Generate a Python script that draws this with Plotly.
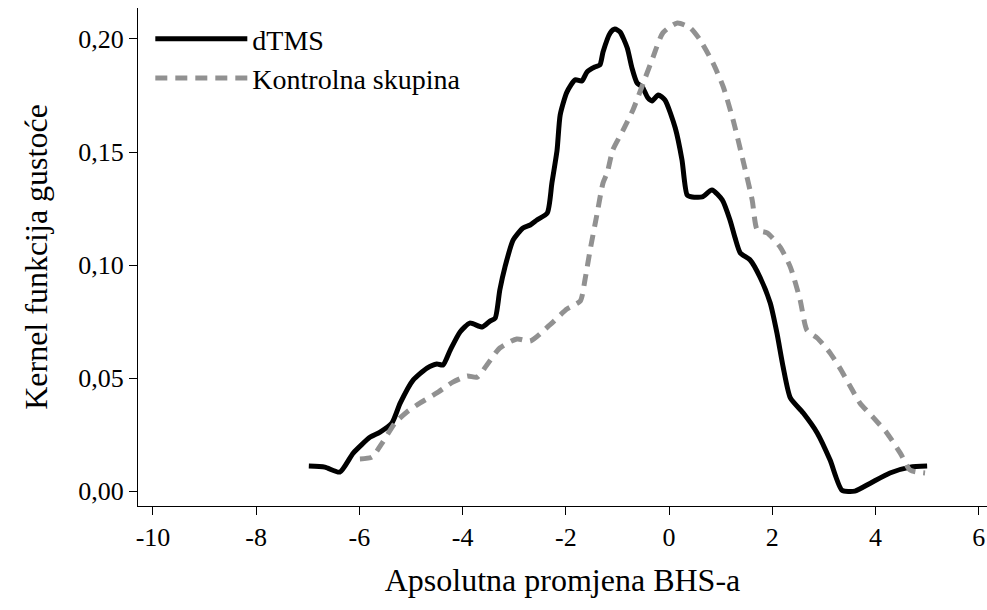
import plotly.graph_objects as go

# dTMS kernel density
dtms_x = [-6.98, -6.67, -6.38, -6.12, -5.79, -5.60, -5.37, -5.21, -4.96, -4.69, -4.50, -4.38,
          -4.24, -4.05, -3.86, -3.62, -3.47, -3.37, -3.28, -3.18, -3.02, -2.83, -2.69, -2.56,
          -2.36, -2.27, -2.17, -2.11, -1.98, -1.82, -1.69, -1.59, -1.44, -1.34, -1.28, -1.14,
          -1.05, -0.95, -0.81, -0.72, -0.62, -0.52, -0.41, -0.33, -0.21, -0.08, 0.12, 0.25,
          0.35, 0.45, 0.64, 0.83, 1.03, 1.18, 1.28, 1.38, 1.57, 1.76, 1.96, 2.09, 2.21, 2.35,
          2.60, 2.87, 3.12, 3.35, 3.60, 3.90, 4.28, 4.67, 5.00]
dtms_y = [0.0111, 0.0106, 0.0084, 0.0168, 0.0239, 0.0261, 0.0301, 0.0389, 0.0491, 0.0544, 0.0562, 0.0558,
          0.0624, 0.0704, 0.0743, 0.0726, 0.0752, 0.0765, 0.0889, 0.0991, 0.1111, 0.1164, 0.1177, 0.1199,
          0.1230, 0.1363, 0.1509, 0.1664, 0.1765, 0.1819, 0.1814, 0.1854, 0.1876, 0.1885, 0.1942, 0.2027,
          0.2044, 0.2031, 0.1960, 0.1872, 0.1805, 0.1788, 0.1739, 0.1726, 0.1752, 0.1730, 0.1606, 0.1465,
          0.1310, 0.1301, 0.1301, 0.1332, 0.1288, 0.1199, 0.1119, 0.1053, 0.1022, 0.0947, 0.0832, 0.0699, 0.0549, 0.0412,
          0.0345, 0.0257, 0.0137, 0.0004, 0.0000, 0.0035, 0.0080, 0.0106, 0.0111]

# Kontrolna skupina kernel density
ctrl_x = [-5.99, -5.76, -5.56, -5.31, -5.08, -4.83, -4.50, -4.19, -3.91, -3.72, -3.53, -3.28,
          -2.95, -2.69, -2.31, -1.98, -1.72, -1.63, -1.53, -1.40, -1.28, -1.20, -1.09, -0.89,
          -0.70, -0.50, -0.31, -0.12, 0.16, 0.41, 0.60, 0.85, 1.05, 1.24, 1.43, 1.61, 1.71,
          1.90, 2.15, 2.35, 2.54, 2.67, 2.87, 3.12, 3.31, 3.55, 3.70, 3.95, 4.22, 4.48, 4.67, 4.96]
ctrl_y = [0.0142, 0.0150, 0.0212, 0.0301, 0.0350, 0.0389, 0.0434, 0.0482, 0.0509, 0.0504, 0.0558, 0.0633,
          0.0673, 0.0664, 0.0735, 0.0805, 0.0841, 0.0934, 0.1066, 0.1221, 0.1363, 0.1407, 0.1509, 0.1597,
          0.1686, 0.1805, 0.1920, 0.2027, 0.2071, 0.2049, 0.1996, 0.1894, 0.1788, 0.1642, 0.1465, 0.1288, 0.1155,
          0.1142, 0.1080, 0.0991, 0.0845, 0.0712, 0.0677, 0.0611, 0.0544, 0.0447, 0.0389, 0.0327, 0.0257, 0.0168, 0.0093, 0.0080]

x_ticks = [-10, -8, -6, -4, -2, 0, 2, 4, 6]
y_ticks = [0.00, 0.05, 0.10, 0.15, 0.20]
y_tick_labels = ["0,00", "0,05", "0,10", "0,15", "0,20"]

FONT = "Liberation Serif"

fig = go.Figure()
fig.add_trace(go.Scatter(x=dtms_x, y=dtms_y, mode="lines", name="dTMS",
                         line=dict(color="black", width=5, shape="spline", smoothing=0.6)))
fig.add_trace(go.Scatter(x=ctrl_x, y=ctrl_y, mode="lines", name="Kontrolna skupina",
                         line=dict(color="#919191", width=5, dash="12px,8px", shape="spline", smoothing=0.6)))

fig.update_layout(
    width=987, height=610,
    margin=dict(l=138, r=0, t=8, b=104, autoexpand=False),
    plot_bgcolor="white", paper_bgcolor="white",
    font=dict(family=FONT, color="black", size=26),
    showlegend=True,
    legend=dict(x=0.0145, y=0.988, xanchor="left", yanchor="top", bgcolor="rgba(0,0,0,0)",
                font=dict(family=FONT, size=28, color="black"), tracegroupgap=0,
                itemwidth=92),
    xaxis=dict(range=[-10.29, 6.16], tickvals=x_ticks, ticktext=[str(v) for v in x_ticks],
               automargin=False, ticklabeloverflow="allow",
               showgrid=False, zeroline=False, showline=True, linecolor="black", linewidth=1.3,
               ticks="outside", ticklen=8, tickwidth=1.3, tickcolor="black",
               tickfont=dict(family=FONT, size=26),
               title=dict(text="Apsolutna promjena BHS-a", font=dict(family=FONT, size=32), standoff=17)),
    yaxis=dict(range=[-0.0066, 0.2137], tickvals=y_ticks, ticktext=y_tick_labels,
               automargin=False, ticklabeloverflow="allow",
               showgrid=False, zeroline=False, showline=True, linecolor="black", linewidth=1.3,
               ticks="outside", ticklen=8, tickwidth=1.3, tickcolor="black",
               tickfont=dict(family=FONT, size=26),
               title=dict(text="Kernel funkcija gustoće", font=dict(family=FONT, size=32), standoff=20)),
)

# remove the browser's default 8px body margin so the figure fills the window exactly
fig.write_html("out.html", config={"displayModeBar": False},
               post_script="document.body.style.margin='0';document.body.style.overflow='hidden';")
